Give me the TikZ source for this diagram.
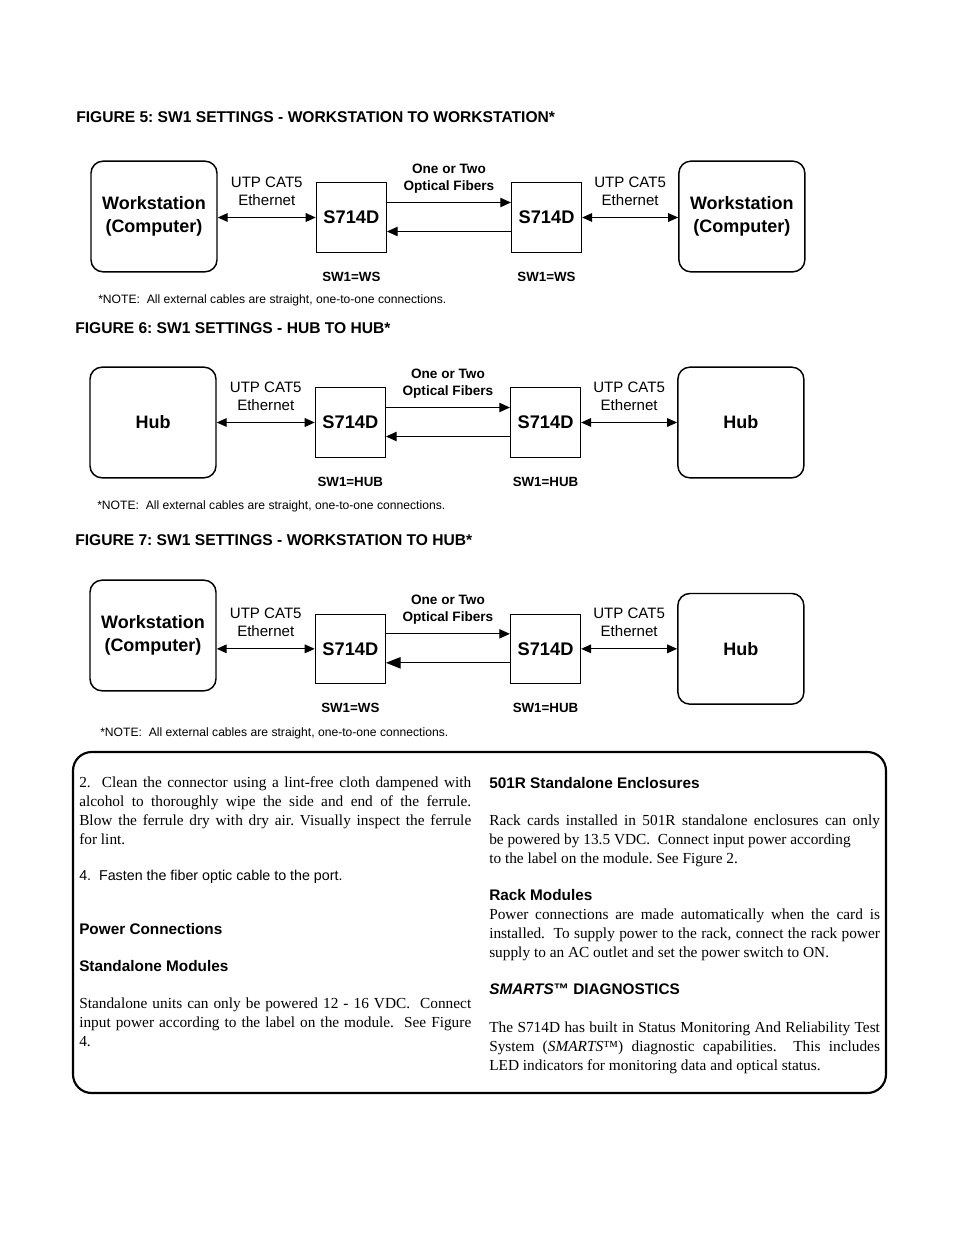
\documentclass[tikz,border=0pt]{standalone}
\usepackage{fontspec}
\setmainfont{Liberation Serif}
\setsansfont{Liberation Sans}
\usetikzlibrary{positioning,arrows.meta}
\frenchspacing

\begin{document}
\begin{tikzpicture}[
    x=0.75pt, y=-0.75pt,
    font=\sffamily,
    endbox/.style={draw, line width=1.1pt, rounded corners=9pt,
        minimum width=94.5pt, minimum height=83pt, align=center,
        font=\sffamily\bfseries\fontsize{13.5}{17}\selectfont},
    unitbox/.style={draw, line width=0.9pt, minimum width=52.5pt,
        minimum height=52pt, font=\sffamily\bfseries\fontsize{13.7}{16}\selectfont},
    figtitle/.style={anchor=west, inner sep=0pt,
        font=\sffamily\bfseries\fontsize{11.7}{14}\selectfont},
    cabletext/.style={align=center, font=\sffamily\fontsize{11.3}{13.5}\selectfont},
    fibertext/.style={align=center, font=\sffamily\bfseries\fontsize{10.2}{12.75}\selectfont},
    swtext/.style={font=\sffamily\bfseries\fontsize{10}{12}\selectfont},
    notetext/.style={anchor=west, inner sep=0pt, font=\sffamily\fontsize{9.1}{11}\selectfont},
    ethline/.style={{Triangle[length=7.5pt,width=6.5pt]}-{Triangle[length=7.5pt,width=6.5pt]}, line width=0.9pt},
    fiberline/.style={-{Triangle[length=8pt,width=7pt]}, line width=0.9pt},
    head/.style={anchor=west, inner sep=0pt, font=\sffamily\bfseries\fontsize{11.5}{14}\selectfont},
    para/.style={anchor=north west, inner sep=0pt, text width=294pt, align=justify,
        font=\rmfamily\fontsize{11.5}{14.25}\selectfont}
]
\useasboundingbox (0,0) rectangle (954,1235);

% --- Figure 5: workstation to workstation ---
\node[figtitle] (title5) at (76,117) {FIGURE 5: SW1 SETTINGS - WORKSTATION TO WORKSTATION*};
\node[endbox] (ws5l) at (154,216.5) {Workstation\\(Computer)};
\node[unitbox] (unit5l) [right=73.5pt of ws5l, yshift=-0.75pt] {S714D};
\node[unitbox] (unit5r) [right=93pt of unit5l] {S714D};
\node[endbox] (ws5r) [right=72pt of unit5r, yshift=0.75pt] {Workstation\\(Computer)};
\node[swtext] (sw5l) [below=11pt of unit5l] {SW1=WS};
\node[swtext] (sw5r) [below=11pt of unit5r] {SW1=WS};
\node[notetext] (note5) at (98,300) {*NOTE:\ \ All external cables are straight, one-to-one connections.};

\draw[ethline] (ws5l.east |- unit5l.west) -- node[cabletext, above=5pt] {UTP CAT5\\Ethernet} (unit5l.west);
\draw[fiberline] ([yshift=11.25pt]unit5l.east) -- node[fibertext, above=3pt] {One or Two\\Optical Fibers} ([yshift=11.25pt]unit5r.west);
\draw[fiberline] ([yshift=-10.5pt]unit5r.west) -- ([yshift=-10.5pt]unit5l.east);
\draw[ethline] (unit5r.east) -- node[cabletext, above=5pt] {UTP CAT5\\Ethernet} (ws5r.west |- unit5r.east);

% --- Figure 6: hub to hub ---
\node[figtitle] (title6) at (75,328) {FIGURE 6: SW1 SETTINGS - HUB TO HUB*};
\node[endbox] (hub6l) at (153,422.5) {Hub};
\node[unitbox] (unit6l) [right=73.5pt of hub6l] {S714D};
\node[unitbox] (unit6r) [right=93pt of unit6l] {S714D};
\node[endbox] (hub6r) [right=72pt of unit6r] {Hub};
\node[swtext] (sw6l) [below=11pt of unit6l] {SW1=HUB};
\node[swtext] (sw6r) [below=11pt of unit6r] {SW1=HUB};
\node[notetext] (note6) at (97,506) {*NOTE:\ \ All external cables are straight, one-to-one connections.};

\draw[ethline] (hub6l.east) -- node[cabletext, above=5pt] {UTP CAT5\\Ethernet} (unit6l.west);
\draw[fiberline] ([yshift=11.25pt]unit6l.east) -- node[fibertext, above=3pt] {One or Two\\Optical Fibers} ([yshift=11.25pt]unit6r.west);
\draw[fiberline] ([yshift=-10.5pt]unit6r.west) -- ([yshift=-10.5pt]unit6l.east);
\draw[ethline] (unit6r.east) -- node[cabletext, above=5pt] {UTP CAT5\\Ethernet} (hub6r.west);

% --- Figure 7: workstation to hub ---
\node[figtitle] (title7) at (75,540) {FIGURE 7: SW1 SETTINGS - WORKSTATION TO HUB*};
\node[endbox] (ws7l) at (153,635.5) {Workstation\\(Computer)};
\node[unitbox] (unit7l) [right=73.5pt of ws7l, yshift=-10pt] {S714D};
\node[unitbox] (unit7r) [right=93pt of unit7l] {S714D};
\node[endbox] (hub7r) [right=72pt of unit7r] {Hub};
\node[swtext] (sw7l) [below=11pt of unit7l] {SW1=WS};
\node[swtext] (sw7r) [below=11pt of unit7r] {SW1=HUB};
\node[notetext] (note7) at (100,733) {*NOTE:\ \ All external cables are straight, one-to-one connections.};

\draw[ethline] (ws7l.east |- unit7l.west) -- node[cabletext, above=5pt] {UTP CAT5\\Ethernet} (unit7l.west);
\draw[fiberline] ([yshift=11.25pt]unit7l.east) -- node[fibertext, above=3pt] {One or Two\\Optical Fibers} ([yshift=11.25pt]unit7r.west);
\draw[line width=0.9pt, -{Triangle[length=11pt,width=8.5pt]}] ([yshift=-10.5pt]unit7r.west) -- ([yshift=-10.5pt]unit7l.east);
\draw[ethline] (unit7r.east) -- node[cabletext, above=5pt] {UTP CAT5\\Ethernet} (hub7r.west);

% --- text panel ---
\draw[line width=1.6pt, rounded corners=14pt] (73,752) rectangle (886,1093);

\node[para] (clean) at (79,776.5) {2.\ \ Clean the connector using a lint-free cloth dampened with\linebreak alcohol to thoroughly wipe the side and end of the ferrule.\linebreak Blow the ferrule dry with dry air. Visually inspect the ferrule\linebreak for lint.};
\node[anchor=west, inner sep=0pt, font=\sffamily\fontsize{10.7}{13}\selectfont] (fasten) at (79,877) {4.\ \ Fasten the fiber optic cable to the port.};
\node[head] (powerhd) at (79,929) {Power Connections};
\node[head] (standhd) at (79,966) {Standalone Modules};
\node[para] (standtx) at (79,997.5) {Standalone units can only be powered 12 - 16 VDC.\ \ Connect\linebreak input power according to the label on the module.\ \ See Figure\linebreak 4.};

\node[head] (enclhd) at (489,783) {501R Standalone Enclosures};
\node[para, text width=293pt] (encltx) at (489,814.5) {Rack cards installed in 501R standalone enclosures can only\linebreak be powered by 13.5 VDC.\ \ Connect input power according\\ to the label on the module. See Figure 2.};
\node[head] (rackhd) at (489,895) {Rack Modules};
\node[para, text width=293pt] (racktx) at (489,908.5) {Power connections are made automatically when the card is\linebreak installed.\ \ To supply power to the rack, connect the rack power\linebreak supply to an AC outlet and set the power switch to ON.};
\node[head] (smartshd) at (489,989) {\textit{SMARTS}™ DIAGNOSTICS};
\node[para, text width=293pt] (smartstx) at (489,1021.5) {The S714D has built in Status Monitoring And Reliability Test\linebreak System (\textit{SMARTS}™) diagnostic capabilities.\ \ This includes\linebreak LED indicators for monitoring data and optical status.};

\end{tikzpicture}
\end{document}
